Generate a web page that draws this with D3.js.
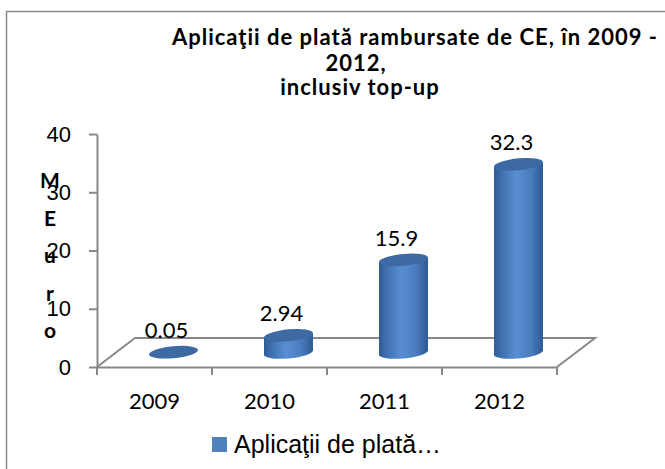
<!DOCTYPE html>
<html>
<head>
<meta charset="utf-8">
<script src="https://cdn.jsdelivr.net/npm/d3@7"></script>
<style>
  body { margin: 0; background: #fff; }
  svg { display: block; }
</style>
</head>
<body>
<div id="chart"></div>
<script>
// Chart data
const years = ['2009', '2010', '2011', '2012'];
const values = [0.05, 2.94, 15.9, 32.3];
const valueLabels = ['0.05', '2.94', '15.9', '32.3'];
const yTicks = [0, 10, 20, 30, 40];
const titleLines = ['Aplicaţii de plată rambursate de CE, în 2009 -', '2012,', 'inclusiv top-up'];
const axisTitle = ['M', 'E', 'u', 'r', 'o'];
const legendLabel = 'Aplicaţii de plată…';

const width = 665, height = 469;
const depth = { dx: 38, dy: -29 }; // floor depth offset

const svg = d3.select('#chart').append('svg')
  .attr('width', width)
  .attr('height', height);

// Gradient for cylinder bodies
const defs = svg.append('defs');
const grad = defs.append('linearGradient')
  .attr('id', 'cyl')
  .attr('x1', '0%').attr('x2', '100%').attr('y1', '0%').attr('y2', '0%');
grad.append('stop').attr('offset', '0%').attr('stop-color', '#2f5c94');
grad.append('stop').attr('offset', '15%').attr('stop-color', '#3f6fae');
grad.append('stop').attr('offset', '45%').attr('stop-color', '#5a8ed3');
grad.append('stop').attr('offset', '75%').attr('stop-color', '#4a7cbf');
grad.append('stop').attr('offset', '100%').attr('stop-color', '#2e5a92');

// Outer frame (only left & top edges are inside the window)
svg.append('path')
  .attr('d', 'M6.5,469 L6.5,11.5 L665,11.5')
  .attr('fill', 'none')
  .attr('stroke', '#8c8c8c')
  .attr('stroke-width', 1.5);

// Scales
const x = d3.scaleBand()
  .domain(years)
  .range([97, 557]);

const y = d3.scaleLinear()
  .domain([0, 40])
  .range([367, 134]);

const axisColor = '#888888';

// Floor (parallelogram)
const x0 = x.range()[0], x1 = x.range()[1], y0 = y(0);
svg.append('path')
  .attr('d', `M${x0},${y0} L${x0 + depth.dx},${y0 + depth.dy} L${x1 + depth.dx},${y0 + depth.dy} L${x1},${y0}`)
  .attr('fill', 'none')
  .attr('stroke', axisColor)
  .attr('stroke-width', 2);

// Y axis
const yAxis = svg.append('g')
  .attr('transform', `translate(${x0},0)`)
  .call(d3.axisLeft(y).tickValues(yTicks).tickSize(8).tickPadding(18).tickSizeOuter(0));
yAxis.select('.domain').attr('stroke', axisColor).attr('stroke-width', 2);
yAxis.selectAll('.tick line').attr('stroke', axisColor).attr('stroke-width', 2);
yAxis.selectAll('.tick text')
  .style('font-family', '"Liberation Sans", Arial, sans-serif')
  .style('font-size', '22px')
  .attr('fill', '#000');

// X axis: labels at band centres, ticks at band edges
const xAxis = svg.append('g')
  .attr('transform', `translate(0,${y0})`)
  .call(d3.axisBottom(x).tickSize(0).tickPadding(26).tickSizeOuter(0));
xAxis.select('.domain').attr('stroke', axisColor).attr('stroke-width', 2);
xAxis.selectAll('.tick text')
  .style('font-family', 'Lato, "Open Sans", sans-serif')
  .style('font-size', '22px')
  .attr('fill', '#000');

const edges = years.map(d => x(d)).concat([x1]);
xAxis.selectAll('.edge-tick')
  .data(edges)
  .enter()
  .append('line')
  .attr('class', 'edge-tick')
  .attr('x1', d => d).attr('x2', d => d)
  .attr('y1', 0).attr('y2', 8)
  .attr('stroke', axisColor)
  .attr('stroke-width', 2);

// Cylinders
const rx = x.bandwidth() * 0.213;
const ry = 6;
const baseY = y0 + depth.dy / 2;

const bars = svg.selectAll('.cyl')
  .data(years.map((d, i) => ({ year: d, value: values[i], label: valueLabels[i] })))
  .enter()
  .append('g')
  .attr('class', 'cyl')
  .attr('transform', d => {
    const cx = x(d.year) + x.bandwidth() / 2 + depth.dx / 2;
    return `translate(${cx},0) skewY(-5)`;
  });

bars.each(function(d) {
  const g = d3.select(this);
  const topY = baseY - (y0 - y(d.value));
  const h = baseY - topY;
  if (h > 2) {
    // Body
    g.append('path')
      .attr('d', `M${-rx},${topY} L${-rx},${baseY} A${rx},${ry} 0 0 0 ${rx},${baseY} L${rx},${topY} Z`)
      .attr('fill', 'url(#cyl)');
  }
  // Top cap
  g.append('ellipse')
    .attr('cx', 0)
    .attr('cy', topY)
    .attr('rx', rx)
    .attr('ry', ry)
    .attr('fill', '#3e6aa4');
});

// Data labels
svg.selectAll('.val')
  .data(years.map((d, i) => ({ year: d, value: values[i], label: valueLabels[i] })))
  .enter()
  .append('text')
  .attr('class', 'val')
  .attr('x', d => x(d.year) + x.bandwidth() / 2 + depth.dx / 2 - 7)
  .attr('y', d => baseY - (y0 - y(d.value)) - 14)
  .attr('text-anchor', 'middle')
  .style('font-family', 'Lato, "Open Sans", sans-serif')
  .style('font-size', '22px')
  .attr('fill', '#000')
  .text(d => d.label);

// Title
const titleCentres = [415, 356, 360];
const titleY = [45, 71, 95];
svg.selectAll('.title')
  .data(titleLines)
  .enter()
  .append('text')
  .attr('class', 'title')
  .attr('x', (d, i) => titleCentres[i])
  .attr('y', (d, i) => titleY[i])
  .attr('text-anchor', 'middle')
  .style('font-family', 'Lato, "Open Sans", sans-serif')
  .style('font-weight', 'bold')
  .style('font-size', '22px')
  .style('letter-spacing', '1px')
  .attr('fill', '#000')
  .text(d => d);

// Vertical stacked axis title
svg.selectAll('.ytitle')
  .data(axisTitle)
  .enter()
  .append('text')
  .attr('class', 'ytitle')
  .attr('x', 50)
  .attr('y', (d, i) => 188 + i * 37.5)
  .attr('text-anchor', 'middle')
  .style('font-family', 'Lato, "Open Sans", sans-serif')
  .style('font-weight', 'bold')
  .style('font-size', '21px')
  .attr('fill', '#000')
  .text(d => d);

// Legend
const legend = svg.append('g').attr('transform', 'translate(212,437)');
legend.append('rect')
  .attr('width', 15)
  .attr('height', 15)
  .attr('fill', '#4f81bd');
legend.append('text')
  .attr('x', 22)
  .attr('y', 16)
  .style('font-family', '"Liberation Sans", Arial, sans-serif')
  .style('font-size', '25px')
  .attr('fill', '#000')
  .text(legendLabel);
</script>
</body>
</html>
